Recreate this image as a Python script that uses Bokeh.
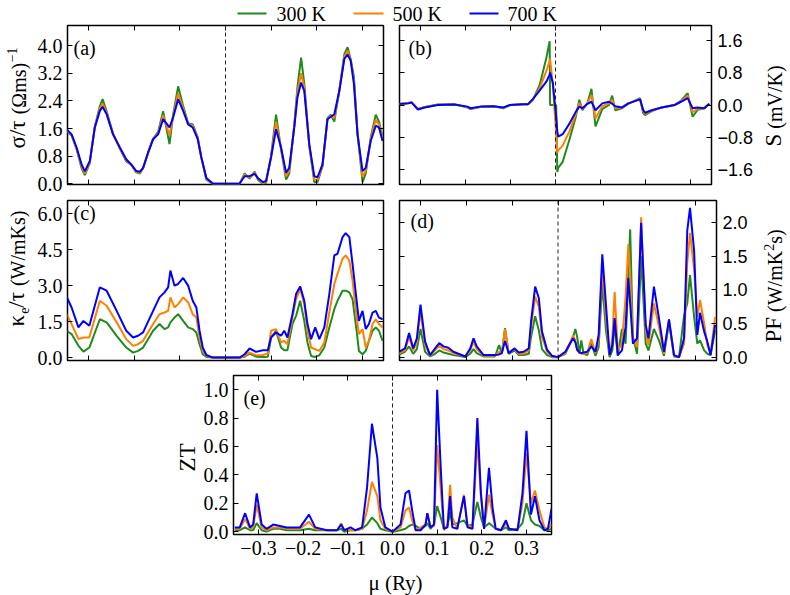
import numpy as np
from bokeh.plotting import figure
from bokeh.models import Range1d, LinearAxis, FixedTicker, Label, Span, CustomJSTickFormatter
from bokeh.layouts import column, row
from bokeh.embed import file_html
from bokeh.resources import INLINE
from bokeh.core.properties import value

# ---------------------------------------------------------------- data
TEMPS = ["300 K", "500 K", "700 K"]
COLORS = ["#1f8b1f", "#ff8000", "#0000ff"]

X_TICKS = [-0.3, -0.2, -0.1, 0.0, 0.1, 0.2, 0.3]

# (a) sigma/tau
MU_A = [-0.349, -0.338, -0.327, -0.316, -0.309, -0.298, -0.287, -0.276, -0.270, -0.261,
        -0.247, -0.232, -0.218, -0.207, -0.196, -0.188, -0.181, -0.170, -0.159, -0.148,
        -0.137, -0.123, -0.115, -0.104, -0.093, -0.082, -0.072, -0.061, -0.053, -0.042,
        -0.028, 0.0, 0.031, 0.042, 0.053, 0.064, 0.071, 0.082, 0.089, 0.100,
        0.111, 0.122, 0.133, 0.140, 0.151, 0.158, 0.166, 0.173, 0.184, 0.195,
        0.202, 0.213, 0.224, 0.231, 0.239, 0.250, 0.261, 0.268, 0.275, 0.282,
        0.290, 0.301, 0.308, 0.319, 0.330, 0.337, 0.345]
SIG_300 = [1.52, 1.40, 1.00, 0.45, 0.25, 0.60, 1.65, 2.25, 2.45, 2.10,
           1.45, 1.02, 0.65, 0.55, 0.33, 0.30, 0.45, 0.90, 1.30, 1.50,
           2.10, 1.15, 2.00, 2.82, 2.25, 1.75, 1.72, 1.35, 0.75, 0.12,
           0.0, 0.0, 0.0, 0.30, 0.15, 0.35, 0.12, 0.0, 0.02, 0.80,
           2.00, 1.00, 0.12, 0.30, 1.70, 2.80, 3.65, 2.90, 1.10, 0.05,
           0.05, 0.50, 1.90, 2.00, 1.80, 2.70, 3.75, 3.95, 3.60, 3.10,
           1.45, 0.05, 0.30, 1.35, 2.00, 1.80, 1.35]
SIG_500 = [1.55, 1.42, 1.02, 0.50, 0.30, 0.63, 1.64, 2.18, 2.33, 2.05,
           1.44, 1.03, 0.68, 0.55, 0.35, 0.32, 0.45, 0.90, 1.30, 1.46,
           1.98, 1.40, 1.96, 2.62, 2.18, 1.73, 1.68, 1.32, 0.76, 0.15,
           0.005, 0.0, 0.005, 0.27, 0.18, 0.32, 0.15, 0.02, 0.05, 0.78,
           1.80, 1.03, 0.22, 0.38, 1.66, 2.65, 3.20, 2.80, 1.12, 0.12,
           0.12, 0.53, 1.88, 1.97, 1.90, 2.70, 3.68, 3.85, 3.58, 3.00,
           1.44, 0.20, 0.38, 1.30, 1.85, 1.72, 1.30]
SIG_700 = [1.58, 1.43, 1.05, 0.56, 0.36, 0.66, 1.63, 2.11, 2.23, 2.01,
           1.43, 1.05, 0.71, 0.56, 0.37, 0.35, 0.46, 0.90, 1.29, 1.43,
           1.87, 1.63, 1.92, 2.45, 2.11, 1.72, 1.63, 1.29, 0.76, 0.17,
           0.01, 0.0, 0.01, 0.22, 0.22, 0.29, 0.17, 0.05, 0.08, 0.76,
           1.58, 1.05, 0.32, 0.46, 1.63, 2.50, 2.93, 2.69, 1.14, 0.22,
           0.19, 0.56, 1.87, 1.94, 2.01, 2.69, 3.61, 3.74, 3.56, 2.89,
           1.43, 0.37, 0.46, 1.24, 1.68, 1.63, 1.24]

# (b) Seebeck coefficient
MU_B = [-0.350, -0.328, -0.320, -0.306, -0.291, -0.262, -0.225, -0.196, -0.189, -0.167,
        -0.138, -0.116, -0.101, -0.072, -0.061, -0.050, -0.035, -0.020, -0.013, -0.012,
        -0.006, 0.0015, 0.004, 0.006, 0.016, 0.031, 0.045, 0.053, 0.060, 0.071,
        0.080, 0.089, 0.104, 0.119, 0.126, 0.133, 0.148, 0.162, 0.188, 0.195,
        0.199, 0.214, 0.236, 0.265, 0.279, 0.294, 0.305, 0.316, 0.331, 0.342]
S_300 = [0.02, 0.05, 0.07, -0.10, -0.05, 0.01, 0.02, -0.06, -0.10, -0.05,
         -0.03, -0.08, 0.0, 0.02, 0.02, 0.13, 0.50, 1.18, 1.57, 0.0,
         0.0, 0.0, -1.65, -1.55, -1.40, -0.85, -0.30, 0.13, -0.13, 0.05,
         0.40, -0.53, -0.10, 0.0, 0.23, -0.13, -0.08, 0.03, 0.17, -0.20,
         -0.25, -0.15, -0.06, 0.0, 0.10, 0.29, -0.29, -0.12, -0.08, 0.03]
S_500 = [0.02, 0.045, 0.065, -0.10, -0.055, 0.005, 0.015, -0.05, -0.09, -0.045,
         -0.03, -0.07, 0.0, 0.02, 0.02, 0.14, 0.42, 0.85, 1.08, 1.14,
         0.50, -0.70, -1.18, -1.12, -1.00, -0.65, -0.23, 0.05, -0.10, 0.04,
         0.25, -0.33, -0.03, 0.04, 0.13, -0.08, -0.07, 0.035, 0.15, -0.16,
         -0.22, -0.14, -0.06, 0.0, 0.09, 0.23, -0.18, -0.09, -0.08, 0.03]
S_700 = [0.02, 0.04, 0.06, -0.11, -0.06, 0.0, 0.01, -0.04, -0.08, -0.04,
         -0.03, -0.06, 0.0, 0.02, 0.02, 0.15, 0.36, 0.58, 0.75, 0.80,
         0.55, -0.30, -0.65, -0.78, -0.72, -0.46, -0.17, -0.04, -0.08, 0.03,
         0.08, -0.13, 0.04, 0.08, 0.03, -0.03, -0.06, 0.04, 0.14, -0.12,
         -0.19, -0.13, -0.06, 0.0, 0.08, 0.17, -0.08, -0.06, -0.08, 0.03]

# (c) electronic thermal conductivity / tau
MU_C = [-0.349, -0.338, -0.323, -0.312, -0.299, -0.276, -0.261, -0.239, -0.218, -0.203,
        -0.192, -0.181, -0.159, -0.145, -0.134, -0.126, -0.121, -0.112, -0.104, -0.093,
        -0.082, -0.072, -0.064, -0.057, -0.050, -0.042, -0.028, 0.0, 0.031, 0.042,
        0.053, 0.067, 0.082, 0.093, 0.100, 0.111, 0.122, 0.129, 0.136, 0.147,
        0.155, 0.164, 0.173, 0.180, 0.188, 0.197, 0.206, 0.217, 0.228, 0.239,
        0.246, 0.257, 0.264, 0.272, 0.279, 0.288, 0.293, 0.301, 0.308, 0.315,
        0.323, 0.330, 0.337, 0.345]
K_300 = [1.12, 0.98, 0.49, 0.25, 0.42, 1.60, 1.47, 0.91, 0.42, 0.21,
         0.28, 0.42, 1.12, 1.40, 1.19, 1.26, 1.47, 1.67, 1.81, 1.53,
         1.26, 1.19, 1.05, 0.56, 0.14, 0.03, 0.0, 0.0, 0.0, 0.04,
         0.17, 0.04, 0.03, 0.04, 0.84, 1.12, 0.42, 0.31, 0.31, 1.40,
         1.74, 2.37, 1.53, 0.63, 0.07, 0.03, 0.10, 0.42, 1.26, 2.02,
         2.37, 2.79, 2.79, 2.72, 2.44, 1.12, 0.28, 0.14, 0.28, 0.70,
         1.12, 1.26, 1.12, 0.70]
K_500 = [1.81, 1.40, 0.77, 0.84, 0.84, 2.37, 2.16, 1.47, 0.77, 0.49,
         0.56, 0.70, 1.40, 1.81, 1.88, 1.95, 2.51, 2.09, 2.23, 2.51,
         2.30, 1.81, 1.67, 0.84, 0.28, 0.07, 0.0, 0.0, 0.0, 0.07,
         0.21, 0.10, 0.11, 0.17, 1.12, 1.19, 0.63, 0.70, 0.56, 1.67,
         2.44, 2.86, 2.23, 1.12, 0.42, 0.35, 0.28, 0.63, 1.88, 3.07,
         3.49, 4.12, 4.26, 4.05, 3.21, 1.67, 0.98, 1.19, 0.42, 0.70,
         1.40, 1.60, 1.40, 1.26]
K_700 = [2.54, 2.09, 1.26, 1.53, 1.33, 2.93, 2.79, 1.95, 1.12, 0.84,
         0.91, 1.05, 1.95, 2.51, 2.72, 2.93, 3.63, 3.00, 3.07, 3.32,
         3.00, 2.37, 2.09, 1.12, 0.42, 0.11, 0.0, 0.0, 0.0, 0.14,
         0.38, 0.24, 0.31, 0.31, 0.84, 1.05, 0.91, 1.12, 0.84, 1.81,
         2.65, 2.97, 2.37, 1.40, 0.77, 1.26, 0.77, 1.26, 2.65, 4.26,
         4.33, 5.02, 5.19, 5.02, 3.91, 2.37, 1.53, 1.95, 1.19, 1.40,
         1.88, 1.95, 1.67, 1.60]

# (d) power factor
MU_D = [-0.350, -0.335, -0.326, -0.317, -0.309, -0.301, -0.291, -0.280, -0.269, -0.260,
        -0.251, -0.240, -0.229, -0.218, -0.203, -0.192, -0.185, -0.178, -0.163, -0.138,
        -0.129, -0.123, -0.116, -0.108, -0.095, -0.086, -0.075, -0.064, -0.059, -0.050,
        -0.042, -0.035, -0.024, -0.013, 0.0, 0.016, 0.033, 0.038, 0.042, 0.047,
        0.051, 0.056, 0.064, 0.073, 0.082, 0.089, 0.097, 0.105, 0.113, 0.119,
        0.124, 0.131, 0.140, 0.148, 0.154, 0.158, 0.164, 0.173, 0.182, 0.192,
        0.198, 0.210, 0.221, 0.232, 0.243, 0.254, 0.265, 0.276, 0.283, 0.289,
        0.298, 0.305, 0.311, 0.320, 0.327, 0.334, 0.344]
PF_300 = [0.03, 0.08, 0.16, 0.05, 0.12, 0.42, 0.08, 0.01, 0.05, 0.10,
          0.07, 0.05, 0.03, 0.02, 0.0, 0.05, 0.12, 0.06, 0.01, 0.01,
          0.18, 0.05, 0.43, 0.05, 0.10, 0.03, 0.03, 0.05, 0.30, 0.61,
          0.40, 0.12, 0.03, 0.0, 0.0, 0.05, 0.30, 0.42, 0.30, 0.05,
          0.25, 0.05, 0.03, 0.20, 0.02, 0.15, 1.10, 0.40, 0.0, 0.10,
          0.48, 0.02, 0.42, 0.20, 1.20, 1.90, 0.30, 0.05, 1.50, 0.20,
          0.10, 0.42, 0.25, 0.02, 0.52, 0.01, 0.0, 0.62, 0.80, 1.22,
          0.60, 0.20, 0.25, 0.10, 0.05, 0.03, 0.40]
PF_500 = [0.05, 0.10, 0.30, 0.10, 0.22, 0.68, 0.18, 0.02, 0.10, 0.17,
          0.12, 0.10, 0.06, 0.04, 0.01, 0.10, 0.23, 0.12, 0.02, 0.02,
          0.08, 0.05, 0.42, 0.06, 0.12, 0.05, 0.05, 0.10, 0.45, 0.90,
          0.75, 0.30, 0.08, 0.01, 0.0, 0.06, 0.32, 0.25, 0.10, 0.06,
          0.05, 0.05, 0.06, 0.27, 0.06, 0.25, 1.35, 0.60, 0.02, 0.30,
          0.97, 0.10, 0.20, 0.90, 1.68, 1.20, 0.25, 0.15, 2.08, 0.40,
          0.18, 0.80, 0.45, 0.05, 0.56, 0.02, 0.0, 0.20, 1.40, 1.85,
          1.30, 0.60, 0.85, 0.50, 0.18, 0.05, 0.60]
PF_700 = [0.07, 0.13, 0.36, 0.13, 0.28, 0.78, 0.23, 0.03, 0.13, 0.21,
          0.16, 0.14, 0.08, 0.05, 0.01, 0.13, 0.28, 0.16, 0.03, 0.03,
          0.04, 0.06, 0.24, 0.06, 0.13, 0.07, 0.08, 0.13, 0.53, 1.05,
          0.88, 0.38, 0.11, 0.02, 0.0, 0.08, 0.28, 0.22, 0.11, 0.07,
          0.06, 0.07, 0.08, 0.16, 0.08, 0.33, 1.53, 0.78, 0.03, 0.18,
          0.58, 0.03, 0.10, 0.45, 1.18, 0.80, 0.20, 0.28, 2.00, 0.48,
          0.28, 1.05, 0.58, 0.08, 0.56, 0.03, 0.0, 0.28, 1.88, 2.22,
          1.58, 0.33, 0.66, 0.38, 0.23, 0.03, 0.48]

# (e) figure of merit
MU_E = [-0.353, -0.342, -0.330, -0.319, -0.312, -0.304, -0.293, -0.282, -0.267, -0.252,
        -0.237, -0.218, -0.207, -0.187, -0.173, -0.147, -0.124, -0.115, -0.108, -0.094,
        -0.083, -0.068, -0.057, -0.046, -0.034, -0.027, -0.016, 0.0, 0.018, 0.029,
        0.037, 0.044, 0.052, 0.063, 0.074, 0.078, 0.085, 0.093, 0.100, 0.108,
        0.115, 0.123, 0.129, 0.134, 0.145, 0.160, 0.168, 0.179, 0.190, 0.198,
        0.205, 0.216, 0.224, 0.231, 0.243, 0.254, 0.261, 0.280, 0.291, 0.300,
        0.310, 0.319, 0.329, 0.340, 0.348, 0.356]
ZT_300 = [0.01, 0.01, 0.03, 0.01, 0.01, 0.06, 0.01, 0.0, 0.02, 0.02,
          0.01, 0.01, 0.01, 0.02, 0.01, 0.01, 0.01, 0.02, 0.0, 0.01,
          0.01, 0.02, 0.05, 0.10, 0.06, 0.02, 0.01, 0.0, 0.01, 0.02,
          0.04, 0.05, 0.04, 0.02, 0.04, 0.06, 0.02, 0.05, 0.18, 0.10,
          0.02, 0.04, 0.14, 0.05, 0.06, 0.08, 0.04, 0.05, 0.21, 0.10,
          0.03, 0.06, 0.04, 0.02, 0.01, 0.03, 0.01, 0.02, 0.06, 0.20,
          0.08, 0.05, 0.04, 0.01, 0.01, 0.02]
ZT_500 = [0.02, 0.02, 0.09, 0.02, 0.03, 0.19, 0.03, 0.01, 0.03, 0.03,
          0.02, 0.02, 0.02, 0.07, 0.02, 0.01, 0.01, 0.06, 0.01, 0.01,
          0.01, 0.02, 0.15, 0.35, 0.25, 0.08, 0.02, 0.0, 0.03, 0.15,
          0.17, 0.08, 0.01, 0.03, 0.05, 0.13, 0.03, 0.04, 0.61, 0.30,
          0.01, 0.05, 0.33, 0.10, 0.02, 0.26, 0.05, 0.02, 0.64, 0.25,
          0.02, 0.26, 0.12, 0.02, 0.01, 0.06, 0.02, 0.01, 0.20, 0.55,
          0.20, 0.29, 0.15, 0.03, 0.02, 0.05]
ZT_700 = [0.03, 0.03, 0.13, 0.03, 0.05, 0.27, 0.05, 0.02, 0.05, 0.04,
          0.03, 0.03, 0.03, 0.12, 0.03, 0.01, 0.01, 0.05, 0.01, 0.03,
          0.01, 0.03, 0.31, 0.76, 0.52, 0.17, 0.03, 0.0, 0.05, 0.27,
          0.29, 0.15, 0.01, 0.01, 0.05, 0.13, 0.03, 0.05, 1.00, 0.45,
          0.02, 0.03, 0.25, 0.03, 0.02, 0.25, 0.03, 0.02, 0.80, 0.27,
          0.02, 0.45, 0.17, 0.02, 0.01, 0.08, 0.02, 0.01, 0.27, 0.71,
          0.12, 0.25, 0.08, 0.01, 0.02, 0.16]

# ---------------------------------------------------------------- styling
SERIF = "Liberation Serif"
SANS = "Liberation Sans"

FMT = CustomJSTickFormatter(code="""
const s = Math.abs(tick).toFixed(1);
return (tick < -1e-9 ? '\u2212' : '') + s;
""")
BLANK = CustomJSTickFormatter(code="return '';")

# approximate advance widths (em) used to chain rotated title pieces
ADV = {"σ": 0.55, "/": 0.278, "τ": 0.44, "(": 0.333, "Ω": 0.768, "m": 0.778,
       "s": 0.389, ")": 0.333, "−": 0.564, "1": 0.5, "κ": 0.55, "e": 0.444, "W": 0.944,
       "K": 0.722, "S": 0.556, "V": 0.722, "P": 0.556, "F": 0.556, "2": 0.5, "Z": 0.611,
       "T": 0.611}
MID = 0.34   # em-box centre above the alphabetic baseline


def text_len(s, size):
    return sum(ADV.get(c, 0.5) for c in s) * size


def bare_figure(w, h, xr, yr, borders=(0, 0, 0, 0)):
    bl, br, bt, bb = borders
    p = figure(width=w, height=h, x_range=Range1d(*xr), y_range=Range1d(*yr),
               x_axis_location=None, y_axis_location=None,
               toolbar_location=None, output_backend="svg",
               min_border_left=bl, min_border_right=br,
               min_border_top=bt, min_border_bottom=bb)
    p.grid.visible = False
    p.outline_line_color = None
    p.background_fill_color = "white"
    p.border_fill_color = "white"
    return p


def add_axis(p, side, ticks, labelled, font=SERIF, size="20px", standoff=5):
    ax = LinearAxis(ticker=FixedTicker(ticks=ticks, minor_ticks=[]),
                    formatter=FMT if labelled else BLANK)
    ax.axis_line_color = None
    ax.major_tick_in = 5
    ax.major_tick_out = 0
    ax.minor_tick_in = 0
    ax.minor_tick_out = 0
    ax.major_tick_line_color = "black"
    ax.major_tick_line_width = 1
    if labelled:
        ax.major_label_text_font = font
        ax.major_label_text_font_size = size
        ax.major_label_text_color = "black"
        ax.major_label_standoff = standoff
    else:
        ax.major_label_text_font_size = "0px"
        ax.major_label_standoff = 0
    p.add_layout(ax, side)


def make_panel(w, h, borders, xr, yr):
    p = bare_figure(w, h, xr, yr, borders)
    p.outline_line_color = "black"
    p.outline_line_width = 1.5
    p.add_layout(Span(location=0, dimension="height", line_color="#222222",
                      line_width=1, line_dash="4 3"))
    return p


def draw_series(p, mu, series):
    for vals, c in zip(series, COLORS):
        p.line(mu, vals, line_color=c, line_width=2)


def panel_tag(p, text, dx, dy):
    p.add_layout(Label(x=p.x_range.start, y=p.y_range.end, x_offset=dx, y_offset=dy,
                       text=text, text_font=SERIF, text_font_size="20px",
                       text_color="black", text_baseline="middle", text_align="left"))


def title_strip(w, h, top, bottom, pieces, base, by):
    """A narrow strip holding a rotated axis title made of chained pieces
    (text, font px, baseline lift, gap before).  `base` is the common
    baseline column; each piece is centred on its own em box.  The strip's
    frame spans the same rows as its neighbouring panel, so y counts
    pixels above that panel's frame bottom."""
    frame_h = h - top - bottom
    s = bare_figure(w, h, (0, w), (0, frame_h), (0, 0, top, bottom))
    pos = by
    for txt, size, shift, gap in pieces:
        pos += gap
        s.text(x=[base - shift - MID * size], y=[pos], text=[txt], angle=np.pi / 2,
               text_align="left", text_baseline="middle",
               text_font=value(SERIF), text_font_size=f"{size}px", text_color="black")
        pos += text_len(txt, size)
    return s


XR = (-0.347, 0.347)

# ---------------------------------------------------------------- legend strip
leg = bare_figure(790, 24, (0, 790), (24, 0))
leg.segment(x0=[237, 353, 469], y0=[13, 13, 13], x1=[266, 383, 498], y1=[13, 13, 13],
            line_color=COLORS, line_width=2)
leg.text(x=[276, 392, 507], y=[13, 13, 13], text=TEMPS, text_font=value(SERIF),
         text_font_size="20px", text_baseline="middle", text_color="black")

# ---------------------------------------------------------------- row 1
H1, T1, B1 = 173, 1, 13
pa = make_panel(359, H1, (35, 8, T1, B1), XR, (-0.02, 4.58))
draw_series(pa, MU_A, [SIG_300, SIG_500, SIG_700])
add_axis(pa, "left", [0.0, 0.8, 1.6, 2.4, 3.2, 4.0], True)
add_axis(pa, "right", [0.0, 0.8, 1.6, 2.4, 3.2, 4.0], False)
add_axis(pa, "below", X_TICKS, False)
add_axis(pa, "above", X_TICKS, False)
panel_tag(pa, "(a)", 6, -22)
ta = title_strip(32, H1, T1, B1,
                 [("σ/τ", 23, 0, 0), ("(Ωms)", 20, 0, 5), ("−1", 14, 9, 0)], 25, 36)

pb = make_panel(365, H1, (8, 40, T1, B1), XR, (-1.96, 1.96))
draw_series(pb, MU_B, [S_300, S_500, S_700])
add_axis(pb, "right", [-1.6, -0.8, 0.0, 0.8, 1.6], True, font=SANS, size="18px", standoff=6)
add_axis(pb, "left", [-1.6, -0.8, 0.0, 0.8, 1.6], False)
add_axis(pb, "below", X_TICKS, False)
add_axis(pb, "above", X_TICKS, False)
panel_tag(pb, "(b)", 9, -22)
tb = title_strip(34, H1, T1, B1, [("S", 23, 0, 0), ("(mV/K)", 20, 0, 5)], 25, 38)

# ---------------------------------------------------------------- row 2
H2, T2, B2 = 175, 3, 12
pc = make_panel(359, H2, (35, 8, T2, B2), XR, (-0.12, 6.55))
draw_series(pc, MU_C, [K_300, K_500, K_700])
add_axis(pc, "left", [0.0, 1.5, 3.0, 4.5, 6.0], True)
add_axis(pc, "right", [0.0, 1.5, 3.0, 4.5, 6.0], False)
add_axis(pc, "below", X_TICKS, False)
add_axis(pc, "above", X_TICKS, False)
panel_tag(pc, "(c)", 6, -12)
tc = title_strip(32, H2, T2, B2,
                 [("κ", 23, 0, 0), ("e", 14, -4, 0), ("/τ", 23, 0, 0), ("(W/mKs)", 20, 0, 5)], 24, 34)

pd = make_panel(365, H2, (8, 40, T2, B2), XR, (-0.05, 2.33))
draw_series(pd, MU_D, [PF_300, PF_500, PF_700])
add_axis(pd, "right", [0.0, 0.5, 1.0, 1.5, 2.0], True, font=SANS, size="18px", standoff=6)
add_axis(pd, "left", [0.0, 0.5, 1.0, 1.5, 2.0], False)
add_axis(pd, "below", X_TICKS, False)
add_axis(pd, "above", X_TICKS, False)
panel_tag(pd, "(d)", 11, -20)
td = title_strip(34, H2, T2, B2,
                 [("PF", 23, 0, 0), ("(W/mK", 20, 0, 5), ("2", 14, 8, 0), ("s)", 20, 0, 0)], 25, 18)

# ---------------------------------------------------------------- row 3
H3, T3, B3 = 195, 3, 33
pe = make_panel(590, H3, (33, 239, T3, B3), (-0.356, 0.356), (-0.02, 1.10))
draw_series(pe, MU_E, [ZT_300, ZT_500, ZT_700])
add_axis(pe, "left", [0.0, 0.2, 0.4, 0.6, 0.8, 1.0], True)
add_axis(pe, "right", [0.0, 0.2, 0.4, 0.6, 0.8, 1.0], False)
add_axis(pe, "below", X_TICKS, True, standoff=6)
add_axis(pe, "above", X_TICKS, False)
panel_tag(pe, "(e)", 10, -22)
te = title_strip(200, H3, T3, B3, [("ZT", 23, 0, 0)], 195, 63)

xt = bare_figure(790, 28, (0, 790), (0, 28))
xt.text(x=[395], y=[13], text=["μ (Ry)"], text_font=value(SERIF), text_font_size="21px",
        text_align="center", text_baseline="middle", text_color="black")

layout = column(row(leg), row(ta, pa, pb, tb), row(tc, pc, pd, td), row(te, pe), row(xt))

open("out.html", "w").write(file_html(layout, INLINE))
